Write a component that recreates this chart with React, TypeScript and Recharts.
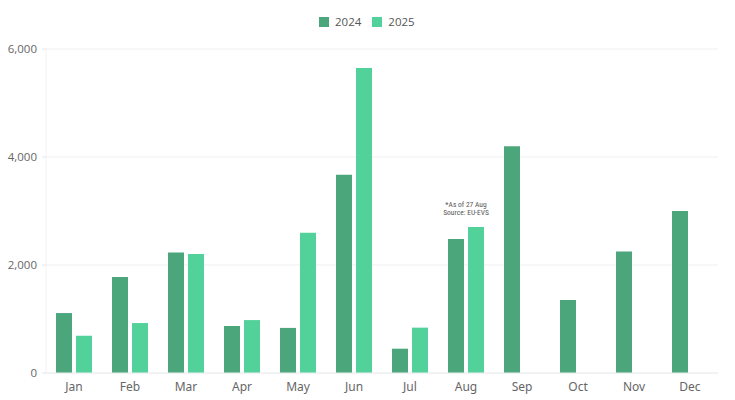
import { BarChart, Bar, XAxis, YAxis, CartesianGrid, ReferenceDot } from "recharts";

const MONTHS = ["Jan", "Feb", "Mar", "Apr", "May", "Jun", "Jul", "Aug", "Sep", "Oct", "Nov", "Dec"];
const SALES_2024 = [1110, 1780, 2230, 870, 835, 3670, 450, 2480, 4200, 1350, 2250, 3000];
const SALES_2025 = [690, 925, 2205, 980, 2595, 5650, 840, 2705, null, null, null, null];
const Y_TICKS = [0, 2000, 4000, 6000];

const COLOR_2024 = "#4ca67c";
const COLOR_2025 = "#53d19b";

const data = MONTHS.map((m, i) => ({ month: m, y2024: SALES_2024[i], y2025: SALES_2025[i] }));

const NoteLabel = ({ viewBox }: any) => {
    const x = viewBox.cx ?? viewBox.x;
    const y = viewBox.cy ?? viewBox.y;
    return (
        <text x={x} y={y} textAnchor="middle" fontSize={7.5} fill="#555"
            fontFamily="'Liberation Sans Narrow', 'Roboto Condensed', 'DejaVu Sans Condensed', sans-serif">
            <tspan x={x} dy={-20}>*As of 27 Aug</tspan>
            <tspan x={x} dy={8.5}>Source: EU-EVS</tspan>
        </text>
    );
};

const App = () => {
    return (
        <div style={{ position: "absolute", left: 0, top: 0, width: 735, height: 400, background: "#fff" }}>
            {/* legend */}
            <div style={{ position: "absolute", top: 14, left: 319, display: "flex", alignItems: "center", gap: 11,
                fontFamily: "'Open Sans', sans-serif", fontSize: 11.5, color: "#555" }}>
                <span style={{ display: "flex", alignItems: "center", gap: 6 }}>
                    <span style={{ width: 10, height: 10, background: COLOR_2024 }} />2024
                </span>
                <span style={{ display: "flex", alignItems: "center", gap: 6 }}>
                    <span style={{ width: 10, height: 10, background: COLOR_2025 }} />2025
                </span>
            </div>
            <BarChart width={735} height={400} data={data} barSize={16} barGap={4}
                margin={{ top: 49, right: 17, bottom: 0, left: 0 }}>
                <CartesianGrid vertical={false} stroke="#efefef" />
                <XAxis dataKey="month" height={27} tickSize={0} tickMargin={9}
                    axisLine={{ stroke: "#eeeeee" }}
                    tick={{ fill: "#666", fontSize: 12, fontFamily: "'Noto Sans', sans-serif" }} />
                <YAxis width={46} domain={[0, 6000]} ticks={Y_TICKS} tickSize={4} tickMargin={5}
                    axisLine={{ stroke: "#f2f2f2" }} tickLine={{ stroke: "#e6e6e6" }}
                    tickFormatter={(v: number) => v.toLocaleString("en-US")}
                    tick={{ fill: "#666", fontSize: 11.5, fontFamily: "'Open Sans', sans-serif" }} />
                <Bar dataKey="y2024" name="2024" fill={COLOR_2024} isAnimationActive={false} />
                <Bar dataKey="y2025" name="2025" fill={COLOR_2025} isAnimationActive={false} />
                <ReferenceDot x="Aug" y={2705} r={0} stroke="none" fill="none" label={<NoteLabel />} />
            </BarChart>
        </div>
    );
};

export default App;
